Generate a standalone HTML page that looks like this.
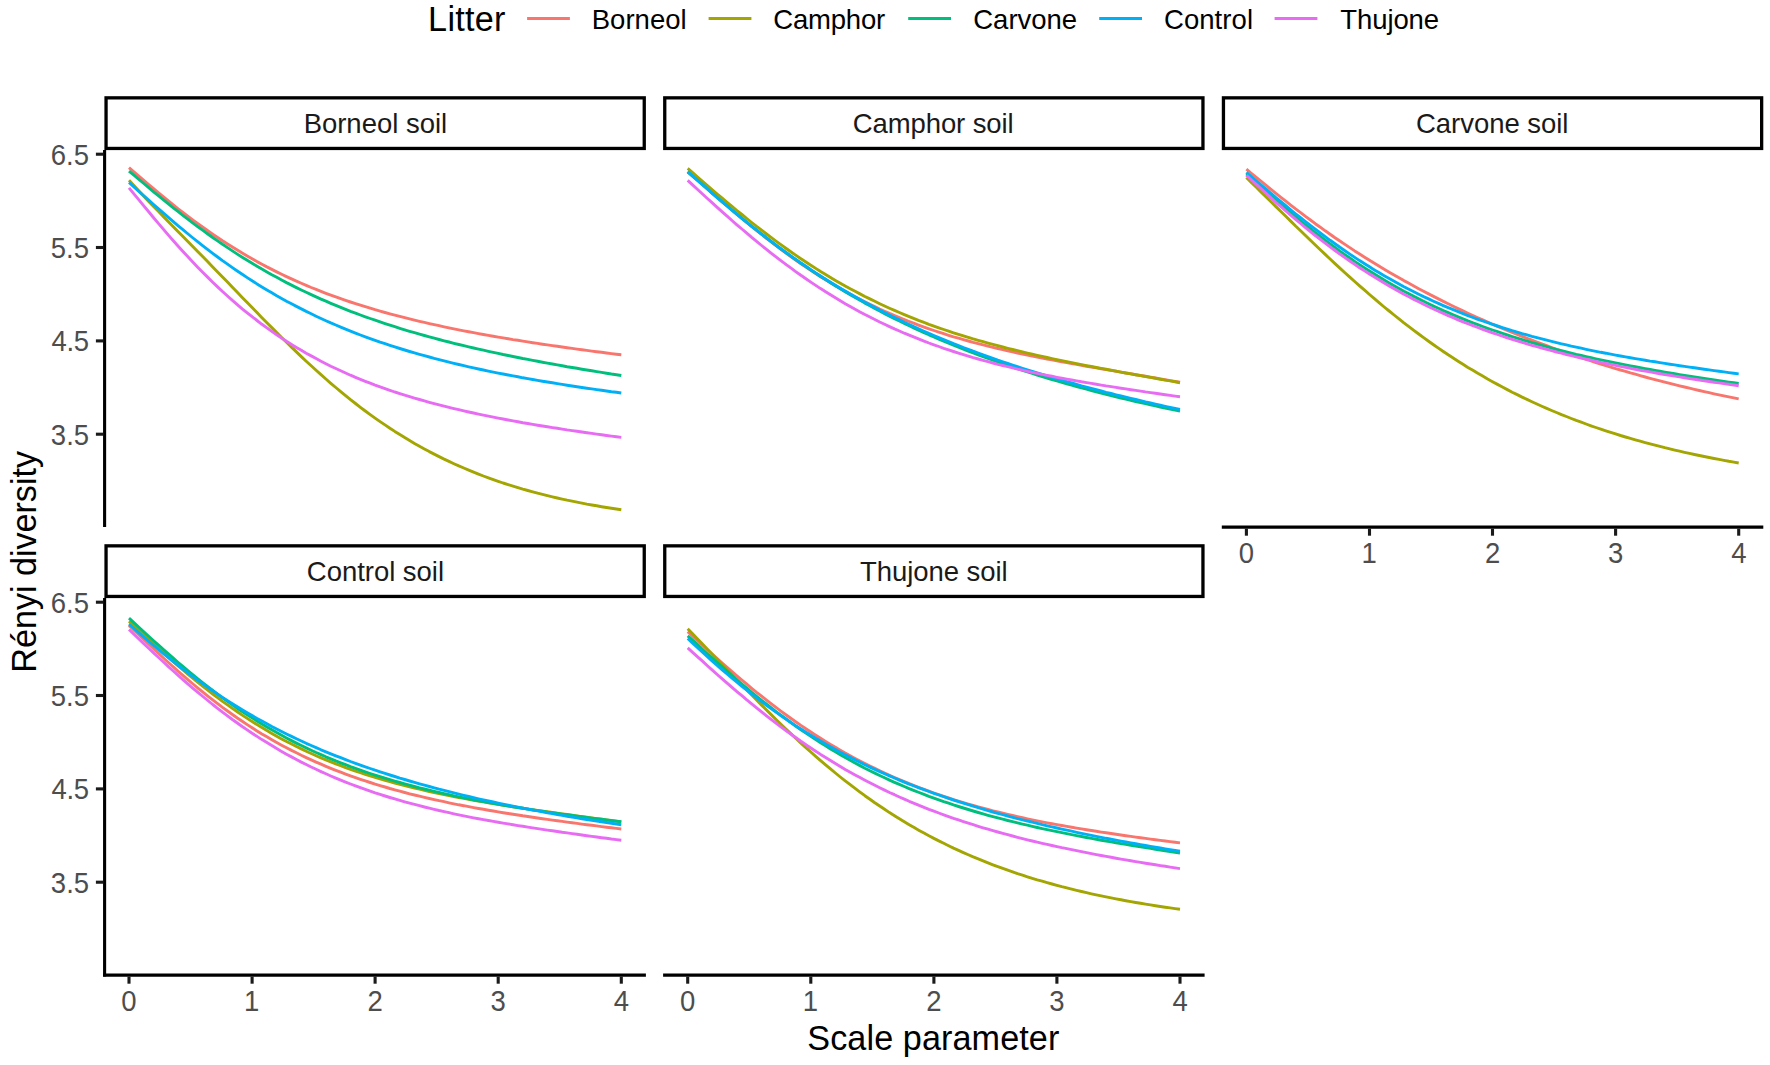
<!DOCTYPE html>
<html><head><meta charset="utf-8"><title>Rényi diversity</title>
<style>html,body{margin:0;padding:0;background:#fff}svg{display:block}text{font-family:"Liberation Sans",sans-serif}</style></head>
<body>
<svg width="1770" height="1065" viewBox="0 0 1770 1065">
<rect width="1770" height="1065" fill="#fff"/>
<text x="428.10" y="30.80" font-size="34.2" fill="#000" letter-spacing="0.277">Litter</text>
<line x1="527.1" y1="18.5" x2="569.9" y2="18.5" stroke="#F8766D" stroke-width="2.9"/>
<text x="591.73" y="28.90" font-size="27.5" fill="#000" letter-spacing="0.028">Borneol</text>
<line x1="708.6" y1="18.5" x2="751.4" y2="18.5" stroke="#A3A500" stroke-width="2.9"/>
<text x="773.26" y="28.90" font-size="27.5" fill="#000" letter-spacing="-0.191">Camphor</text>
<line x1="908.2" y1="18.5" x2="951.0" y2="18.5" stroke="#00BF7D" stroke-width="2.9"/>
<text x="973.26" y="28.90" font-size="27.5" fill="#000" letter-spacing="-0.007">Carvone</text>
<line x1="1099.2" y1="18.5" x2="1142.0" y2="18.5" stroke="#00B0F6" stroke-width="2.9"/>
<text x="1163.96" y="28.90" font-size="27.5" fill="#000" letter-spacing="0.067">Control</text>
<line x1="1274.6" y1="18.5" x2="1317.4" y2="18.5" stroke="#E76BF3" stroke-width="2.9"/>
<text x="1340.37" y="28.90" font-size="27.5" fill="#000" letter-spacing="-0.112">Thujone</text>
<path d="M129.0,167.7 L133.9,171.9 L138.9,176.1 L143.8,180.4 L148.7,184.6 L153.6,188.7 L158.6,192.8 L163.5,196.9 L168.4,200.9 L173.3,204.9 L178.2,208.8 L183.2,212.6 L188.1,216.4 L193.0,220.1 L197.9,223.7 L202.9,227.3 L207.8,230.8 L212.7,234.2 L217.6,237.5 L222.5,240.8 L227.5,244.0 L232.4,247.1 L237.3,250.1 L242.2,253.1 L247.2,256.0 L252.1,258.8 L257.0,261.6 L261.9,264.2 L266.9,266.9 L271.8,269.4 L276.7,271.9 L281.6,274.3 L286.5,276.6 L291.5,278.9 L296.4,281.1 L301.3,283.3 L306.2,285.4 L311.2,287.5 L316.1,289.4 L321.0,291.4 L325.9,293.3 L330.8,295.1 L335.8,296.9 L340.7,298.7 L345.6,300.4 L350.5,302.0 L355.5,303.6 L360.4,305.2 L365.3,306.7 L370.2,308.2 L375.1,309.7 L380.1,311.1 L385.0,312.5 L389.9,313.8 L394.8,315.1 L399.8,316.4 L404.7,317.7 L409.6,318.9 L414.5,320.1 L419.5,321.3 L424.4,322.4 L429.3,323.6 L434.2,324.7 L439.1,325.7 L444.1,326.8 L449.0,327.8 L453.9,328.8 L458.8,329.8 L463.8,330.8 L468.7,331.7 L473.6,332.7 L478.5,333.6 L483.4,334.5 L488.4,335.4 L493.3,336.2 L498.2,337.1 L503.1,337.9 L508.1,338.7 L513.0,339.6 L517.9,340.3 L522.8,341.1 L527.8,341.9 L532.7,342.7 L537.6,343.4 L542.5,344.2 L547.4,344.9 L552.4,345.6 L557.3,346.3 L562.2,347.0 L567.1,347.7 L572.1,348.4 L577.0,349.1 L581.9,349.8 L586.8,350.4 L591.8,351.1 L596.7,351.7 L601.6,352.3 L606.5,353.0 L611.4,353.6 L616.4,354.2 L621.3,354.8" fill="none" stroke="#F8766D" stroke-width="2.9" stroke-linejoin="round"/>
<path d="M129.0,180.3 L133.9,185.6 L138.9,191.0 L143.8,196.2 L148.7,201.4 L153.6,206.5 L158.6,211.6 L163.5,216.7 L168.4,221.7 L173.3,226.7 L178.2,231.7 L183.2,236.7 L188.1,241.7 L193.0,246.7 L197.9,251.7 L202.9,256.8 L207.8,261.8 L212.7,266.9 L217.6,271.9 L222.5,277.0 L227.5,282.1 L232.4,287.2 L237.3,292.3 L242.2,297.4 L247.2,302.5 L252.1,307.6 L257.0,312.6 L261.9,317.7 L266.9,322.7 L271.8,327.6 L276.7,332.6 L281.6,337.5 L286.5,342.3 L291.5,347.1 L296.4,351.9 L301.3,356.6 L306.2,361.2 L311.2,365.8 L316.1,370.3 L321.0,374.7 L325.9,379.0 L330.8,383.3 L335.8,387.5 L340.7,391.6 L345.6,395.6 L350.5,399.6 L355.5,403.5 L360.4,407.3 L365.3,411.0 L370.2,414.6 L375.1,418.1 L380.1,421.6 L385.0,424.9 L389.9,428.2 L394.8,431.4 L399.8,434.5 L404.7,437.6 L409.6,440.5 L414.5,443.4 L419.5,446.2 L424.4,448.9 L429.3,451.6 L434.2,454.1 L439.1,456.6 L444.1,459.1 L449.0,461.4 L453.9,463.7 L458.8,465.9 L463.8,468.0 L468.7,470.1 L473.6,472.1 L478.5,474.1 L483.4,476.0 L488.4,477.8 L493.3,479.6 L498.2,481.3 L503.1,483.0 L508.1,484.6 L513.0,486.1 L517.9,487.6 L522.8,489.1 L527.8,490.5 L532.7,491.8 L537.6,493.2 L542.5,494.4 L547.4,495.6 L552.4,496.8 L557.3,498.0 L562.2,499.1 L567.1,500.2 L572.1,501.2 L577.0,502.2 L581.9,503.1 L586.8,504.1 L591.8,505.0 L596.7,505.8 L601.6,506.7 L606.5,507.5 L611.4,508.2 L616.4,509.0 L621.3,509.7" fill="none" stroke="#A3A500" stroke-width="2.9" stroke-linejoin="round"/>
<path d="M129.0,171.1 L133.9,175.2 L138.9,179.4 L143.8,183.5 L148.7,187.7 L153.6,191.8 L158.6,195.8 L163.5,199.9 L168.4,203.9 L173.3,207.8 L178.2,211.7 L183.2,215.6 L188.1,219.4 L193.0,223.1 L197.9,226.8 L202.9,230.4 L207.8,234.0 L212.7,237.5 L217.6,240.9 L222.5,244.3 L227.5,247.6 L232.4,250.9 L237.3,254.1 L242.2,257.2 L247.2,260.3 L252.1,263.3 L257.0,266.2 L261.9,269.1 L266.9,271.9 L271.8,274.7 L276.7,277.3 L281.6,280.0 L286.5,282.6 L291.5,285.1 L296.4,287.6 L301.3,290.0 L306.2,292.3 L311.2,294.6 L316.1,296.9 L321.0,299.1 L325.9,301.2 L330.8,303.3 L335.8,305.4 L340.7,307.4 L345.6,309.4 L350.5,311.3 L355.5,313.1 L360.4,315.0 L365.3,316.8 L370.2,318.5 L375.1,320.2 L380.1,321.9 L385.0,323.6 L389.9,325.2 L394.8,326.7 L399.8,328.3 L404.7,329.8 L409.6,331.3 L414.5,332.7 L419.5,334.1 L424.4,335.5 L429.3,336.9 L434.2,338.2 L439.1,339.5 L444.1,340.8 L449.0,342.0 L453.9,343.3 L458.8,344.5 L463.8,345.7 L468.7,346.8 L473.6,348.0 L478.5,349.1 L483.4,350.2 L488.4,351.3 L493.3,352.4 L498.2,353.4 L503.1,354.5 L508.1,355.5 L513.0,356.5 L517.9,357.5 L522.8,358.5 L527.8,359.4 L532.7,360.4 L537.6,361.3 L542.5,362.2 L547.4,363.1 L552.4,364.0 L557.3,364.9 L562.2,365.8 L567.1,366.7 L572.1,367.5 L577.0,368.3 L581.9,369.2 L586.8,370.0 L591.8,370.8 L596.7,371.6 L601.6,372.4 L606.5,373.2 L611.4,374.0 L616.4,374.7 L621.3,375.5" fill="none" stroke="#00BF7D" stroke-width="2.9" stroke-linejoin="round"/>
<path d="M129.0,182.5 L133.9,186.9 L138.9,191.3 L143.8,195.8 L148.7,200.2 L153.6,204.5 L158.6,208.9 L163.5,213.2 L168.4,217.4 L173.3,221.6 L178.2,225.8 L183.2,229.9 L188.1,234.0 L193.0,238.0 L197.9,241.9 L202.9,245.8 L207.8,249.6 L212.7,253.3 L217.6,257.0 L222.5,260.6 L227.5,264.1 L232.4,267.6 L237.3,271.0 L242.2,274.3 L247.2,277.6 L252.1,280.7 L257.0,283.9 L261.9,286.9 L266.9,289.9 L271.8,292.8 L276.7,295.7 L281.6,298.4 L286.5,301.2 L291.5,303.8 L296.4,306.4 L301.3,308.9 L306.2,311.4 L311.2,313.8 L316.1,316.2 L321.0,318.5 L325.9,320.7 L330.8,322.9 L335.8,325.0 L340.7,327.1 L345.6,329.2 L350.5,331.1 L355.5,333.1 L360.4,335.0 L365.3,336.8 L370.2,338.6 L375.1,340.3 L380.1,342.1 L385.0,343.7 L389.9,345.3 L394.8,346.9 L399.8,348.5 L404.7,350.0 L409.6,351.5 L414.5,352.9 L419.5,354.3 L424.4,355.7 L429.3,357.0 L434.2,358.4 L439.1,359.6 L444.1,360.9 L449.0,362.1 L453.9,363.3 L458.8,364.5 L463.8,365.7 L468.7,366.8 L473.6,367.9 L478.5,369.0 L483.4,370.0 L488.4,371.1 L493.3,372.1 L498.2,373.1 L503.1,374.0 L508.1,375.0 L513.0,375.9 L517.9,376.8 L522.8,377.8 L527.8,378.6 L532.7,379.5 L537.6,380.4 L542.5,381.2 L547.4,382.0 L552.4,382.8 L557.3,383.6 L562.2,384.4 L567.1,385.2 L572.1,386.0 L577.0,386.7 L581.9,387.5 L586.8,388.2 L591.8,388.9 L596.7,389.6 L601.6,390.3 L606.5,391.0 L611.4,391.7 L616.4,392.3 L621.3,393.0" fill="none" stroke="#00B0F6" stroke-width="2.9" stroke-linejoin="round"/>
<path d="M129.0,187.9 L133.9,193.9 L138.9,199.9 L143.8,205.9 L148.7,211.8 L153.6,217.7 L158.6,223.6 L163.5,229.4 L168.4,235.1 L173.3,240.7 L178.2,246.2 L183.2,251.7 L188.1,257.0 L193.0,262.3 L197.9,267.4 L202.9,272.5 L207.8,277.4 L212.7,282.2 L217.6,286.9 L222.5,291.5 L227.5,296.0 L232.4,300.4 L237.3,304.6 L242.2,308.8 L247.2,312.8 L252.1,316.7 L257.0,320.5 L261.9,324.3 L266.9,327.9 L271.8,331.4 L276.7,334.8 L281.6,338.1 L286.5,341.3 L291.5,344.4 L296.4,347.4 L301.3,350.3 L306.2,353.2 L311.2,355.9 L316.1,358.6 L321.0,361.2 L325.9,363.7 L330.8,366.2 L335.8,368.5 L340.7,370.8 L345.6,373.0 L350.5,375.2 L355.5,377.3 L360.4,379.3 L365.3,381.3 L370.2,383.2 L375.1,385.1 L380.1,386.9 L385.0,388.6 L389.9,390.3 L394.8,392.0 L399.8,393.6 L404.7,395.1 L409.6,396.6 L414.5,398.1 L419.5,399.5 L424.4,400.9 L429.3,402.3 L434.2,403.6 L439.1,404.9 L444.1,406.2 L449.0,407.4 L453.9,408.6 L458.8,409.7 L463.8,410.9 L468.7,412.0 L473.6,413.0 L478.5,414.1 L483.4,415.1 L488.4,416.1 L493.3,417.1 L498.2,418.1 L503.1,419.0 L508.1,420.0 L513.0,420.9 L517.9,421.8 L522.8,422.7 L527.8,423.5 L532.7,424.4 L537.6,425.2 L542.5,426.0 L547.4,426.8 L552.4,427.6 L557.3,428.3 L562.2,429.1 L567.1,429.9 L572.1,430.6 L577.0,431.3 L581.9,432.0 L586.8,432.7 L591.8,433.4 L596.7,434.1 L601.6,434.8 L606.5,435.5 L611.4,436.1 L616.4,436.8 L621.3,437.4" fill="none" stroke="#E76BF3" stroke-width="2.9" stroke-linejoin="round"/>
<rect x="106.05" y="97.85" width="538.20" height="50.60" fill="#fff" stroke="#000" stroke-width="3.3"/>
<text x="303.63" y="133.10" font-size="27.5" fill="#1a1a1a" letter-spacing="-0.016">Borneol soil</text>
<line x1="104.6" y1="150.1" x2="104.6" y2="527.1" stroke="#000" stroke-width="3.1"/>
<line x1="95.9" y1="154.2" x2="103.2" y2="154.2" stroke="#1a1a1a" stroke-width="3.1"/>
<text transform="translate(50.66,164.70) scale(1,1.055)" font-size="27.5" fill="#4d4d4d" letter-spacing="0.118">6.5</text>
<line x1="95.9" y1="247.5" x2="103.2" y2="247.5" stroke="#1a1a1a" stroke-width="3.1"/>
<text transform="translate(50.70,258.03) scale(1,1.055)" font-size="27.5" fill="#4d4d4d" letter-spacing="0.102">5.5</text>
<line x1="95.9" y1="340.9" x2="103.2" y2="340.9" stroke="#1a1a1a" stroke-width="3.1"/>
<text transform="translate(51.47,351.36) scale(1,1.055)" font-size="27.5" fill="#4d4d4d" letter-spacing="-0.286">4.5</text>
<line x1="95.9" y1="434.2" x2="103.2" y2="434.2" stroke="#1a1a1a" stroke-width="3.1"/>
<text transform="translate(50.81,444.69) scale(1,1.055)" font-size="27.5" fill="#4d4d4d" letter-spacing="0.047">3.5</text>
<path d="M687.7,171.8 L692.6,176.0 L697.6,180.2 L702.5,184.5 L707.4,188.8 L712.3,193.0 L717.2,197.3 L722.2,201.6 L727.1,205.8 L732.0,210.0 L736.9,214.2 L741.9,218.3 L746.8,222.4 L751.7,226.5 L756.6,230.5 L761.6,234.4 L766.5,238.3 L771.4,242.1 L776.3,245.9 L781.2,249.6 L786.2,253.2 L791.1,256.8 L796.0,260.3 L800.9,263.7 L805.9,267.1 L810.8,270.4 L815.7,273.6 L820.6,276.7 L825.6,279.8 L830.5,282.8 L835.4,285.7 L840.3,288.6 L845.2,291.4 L850.2,294.1 L855.1,296.7 L860.0,299.3 L864.9,301.8 L869.9,304.3 L874.8,306.6 L879.7,309.0 L884.6,311.2 L889.5,313.4 L894.5,315.5 L899.4,317.6 L904.3,319.6 L909.2,321.5 L914.2,323.4 L919.1,325.3 L924.0,327.1 L928.9,328.8 L933.9,330.5 L938.8,332.1 L943.7,333.7 L948.6,335.3 L953.5,336.8 L958.5,338.2 L963.4,339.6 L968.3,341.0 L973.2,342.4 L978.2,343.7 L983.1,344.9 L988.0,346.2 L992.9,347.4 L997.8,348.5 L1002.8,349.7 L1007.7,350.8 L1012.6,351.9 L1017.5,353.0 L1022.5,354.0 L1027.4,355.0 L1032.3,356.0 L1037.2,357.0 L1042.2,358.0 L1047.1,359.0 L1052.0,359.9 L1056.9,360.8 L1061.8,361.7 L1066.8,362.6 L1071.7,363.5 L1076.6,364.4 L1081.5,365.3 L1086.5,366.2 L1091.4,367.0 L1096.3,367.9 L1101.2,368.7 L1106.1,369.6 L1111.1,370.4 L1116.0,371.3 L1120.9,372.1 L1125.8,373.0 L1130.8,373.8 L1135.7,374.7 L1140.6,375.5 L1145.5,376.3 L1150.5,377.2 L1155.4,378.0 L1160.3,378.9 L1165.2,379.7 L1170.1,380.6 L1175.1,381.5 L1180.0,382.3" fill="none" stroke="#F8766D" stroke-width="2.9" stroke-linejoin="round"/>
<path d="M687.7,168.4 L692.6,172.7 L697.6,177.0 L702.5,181.3 L707.4,185.5 L712.3,189.8 L717.2,194.0 L722.2,198.2 L727.1,202.3 L732.0,206.4 L736.9,210.5 L741.9,214.5 L746.8,218.5 L751.7,222.5 L756.6,226.4 L761.6,230.2 L766.5,234.0 L771.4,237.7 L776.3,241.3 L781.2,244.9 L786.2,248.5 L791.1,252.0 L796.0,255.4 L800.9,258.7 L805.9,262.0 L810.8,265.2 L815.7,268.4 L820.6,271.5 L825.6,274.5 L830.5,277.5 L835.4,280.4 L840.3,283.2 L845.2,286.0 L850.2,288.7 L855.1,291.3 L860.0,293.9 L864.9,296.5 L869.9,298.9 L874.8,301.3 L879.7,303.7 L884.6,306.0 L889.5,308.2 L894.5,310.4 L899.4,312.5 L904.3,314.6 L909.2,316.6 L914.2,318.6 L919.1,320.6 L924.0,322.4 L928.9,324.3 L933.9,326.1 L938.8,327.8 L943.7,329.5 L948.6,331.2 L953.5,332.8 L958.5,334.4 L963.4,335.9 L968.3,337.4 L973.2,338.9 L978.2,340.3 L983.1,341.7 L988.0,343.1 L992.9,344.4 L997.8,345.7 L1002.8,347.0 L1007.7,348.3 L1012.6,349.5 L1017.5,350.7 L1022.5,351.9 L1027.4,353.1 L1032.3,354.2 L1037.2,355.3 L1042.2,356.4 L1047.1,357.5 L1052.0,358.6 L1056.9,359.6 L1061.8,360.6 L1066.8,361.6 L1071.7,362.6 L1076.6,363.6 L1081.5,364.6 L1086.5,365.6 L1091.4,366.5 L1096.3,367.5 L1101.2,368.4 L1106.1,369.3 L1111.1,370.2 L1116.0,371.2 L1120.9,372.1 L1125.8,373.0 L1130.8,373.9 L1135.7,374.8 L1140.6,375.6 L1145.5,376.5 L1150.5,377.4 L1155.4,378.3 L1160.3,379.2 L1165.2,380.1 L1170.1,380.9 L1175.1,381.8 L1180.0,382.7" fill="none" stroke="#A3A500" stroke-width="2.9" stroke-linejoin="round"/>
<path d="M687.7,171.8 L692.6,176.1 L697.6,180.4 L702.5,184.7 L707.4,189.0 L712.3,193.3 L717.2,197.5 L722.2,201.8 L727.1,205.9 L732.0,210.1 L736.9,214.2 L741.9,218.3 L746.8,222.3 L751.7,226.3 L756.6,230.2 L761.6,234.1 L766.5,238.0 L771.4,241.7 L776.3,245.5 L781.2,249.1 L786.2,252.7 L791.1,256.3 L796.0,259.8 L800.9,263.2 L805.9,266.6 L810.8,270.0 L815.7,273.2 L820.6,276.5 L825.6,279.6 L830.5,282.7 L835.4,285.8 L840.3,288.8 L845.2,291.8 L850.2,294.7 L855.1,297.5 L860.0,300.3 L864.9,303.1 L869.9,305.8 L874.8,308.4 L879.7,311.0 L884.6,313.6 L889.5,316.1 L894.5,318.6 L899.4,321.0 L904.3,323.4 L909.2,325.8 L914.2,328.1 L919.1,330.4 L924.0,332.6 L928.9,334.8 L933.9,336.9 L938.8,339.1 L943.7,341.2 L948.6,343.2 L953.5,345.2 L958.5,347.2 L963.4,349.2 L968.3,351.1 L973.2,353.0 L978.2,354.8 L983.1,356.7 L988.0,358.5 L992.9,360.2 L997.8,362.0 L1002.8,363.7 L1007.7,365.4 L1012.6,367.0 L1017.5,368.7 L1022.5,370.3 L1027.4,371.9 L1032.3,373.4 L1037.2,375.0 L1042.2,376.5 L1047.1,378.0 L1052.0,379.5 L1056.9,380.9 L1061.8,382.4 L1066.8,383.8 L1071.7,385.1 L1076.6,386.5 L1081.5,387.9 L1086.5,389.2 L1091.4,390.5 L1096.3,391.8 L1101.2,393.1 L1106.1,394.3 L1111.1,395.6 L1116.0,396.8 L1120.9,398.0 L1125.8,399.2 L1130.8,400.3 L1135.7,401.5 L1140.6,402.6 L1145.5,403.7 L1150.5,404.9 L1155.4,405.9 L1160.3,407.0 L1165.2,408.1 L1170.1,409.1 L1175.1,410.2 L1180.0,411.2" fill="none" stroke="#00BF7D" stroke-width="2.9" stroke-linejoin="round"/>
<path d="M687.7,171.7 L692.6,176.1 L697.6,180.4 L702.5,184.7 L707.4,189.0 L712.3,193.3 L717.2,197.6 L722.2,201.8 L727.1,206.0 L732.0,210.2 L736.9,214.3 L741.9,218.3 L746.8,222.4 L751.7,226.3 L756.6,230.2 L761.6,234.1 L766.5,237.9 L771.4,241.7 L776.3,245.4 L781.2,249.0 L786.2,252.6 L791.1,256.1 L796.0,259.6 L800.9,263.0 L805.9,266.3 L810.8,269.6 L815.7,272.9 L820.6,276.0 L825.6,279.2 L830.5,282.2 L835.4,285.2 L840.3,288.2 L845.2,291.1 L850.2,294.0 L855.1,296.8 L860.0,299.5 L864.9,302.2 L869.9,304.9 L874.8,307.5 L879.7,310.1 L884.6,312.6 L889.5,315.1 L894.5,317.5 L899.4,319.9 L904.3,322.2 L909.2,324.5 L914.2,326.8 L919.1,329.0 L924.0,331.2 L928.9,333.4 L933.9,335.5 L938.8,337.6 L943.7,339.6 L948.6,341.6 L953.5,343.6 L958.5,345.5 L963.4,347.5 L968.3,349.3 L973.2,351.2 L978.2,353.0 L983.1,354.8 L988.0,356.6 L992.9,358.3 L997.8,360.1 L1002.8,361.8 L1007.7,363.4 L1012.6,365.1 L1017.5,366.7 L1022.5,368.3 L1027.4,369.8 L1032.3,371.4 L1037.2,372.9 L1042.2,374.4 L1047.1,375.9 L1052.0,377.4 L1056.9,378.8 L1061.8,380.2 L1066.8,381.7 L1071.7,383.0 L1076.6,384.4 L1081.5,385.8 L1086.5,387.1 L1091.4,388.4 L1096.3,389.7 L1101.2,391.0 L1106.1,392.3 L1111.1,393.5 L1116.0,394.8 L1120.9,396.0 L1125.8,397.2 L1130.8,398.4 L1135.7,399.5 L1140.6,400.7 L1145.5,401.9 L1150.5,403.0 L1155.4,404.1 L1160.3,405.2 L1165.2,406.3 L1170.1,407.4 L1175.1,408.5 L1180.0,409.5" fill="none" stroke="#00B0F6" stroke-width="2.9" stroke-linejoin="round"/>
<path d="M687.7,180.4 L692.6,184.9 L697.6,189.5 L702.5,194.0 L707.4,198.5 L712.3,202.9 L717.2,207.4 L722.2,211.8 L727.1,216.2 L732.0,220.5 L736.9,224.8 L741.9,229.0 L746.8,233.2 L751.7,237.4 L756.6,241.4 L761.6,245.5 L766.5,249.4 L771.4,253.3 L776.3,257.1 L781.2,260.9 L786.2,264.6 L791.1,268.2 L796.0,271.8 L800.9,275.3 L805.9,278.7 L810.8,282.1 L815.7,285.4 L820.6,288.6 L825.6,291.7 L830.5,294.8 L835.4,297.8 L840.3,300.8 L845.2,303.7 L850.2,306.5 L855.1,309.2 L860.0,311.9 L864.9,314.5 L869.9,317.0 L874.8,319.5 L879.7,322.0 L884.6,324.3 L889.5,326.6 L894.5,328.9 L899.4,331.0 L904.3,333.2 L909.2,335.2 L914.2,337.2 L919.1,339.2 L924.0,341.1 L928.9,343.0 L933.9,344.8 L938.8,346.5 L943.7,348.3 L948.6,349.9 L953.5,351.5 L958.5,353.1 L963.4,354.6 L968.3,356.1 L973.2,357.6 L978.2,359.0 L983.1,360.4 L988.0,361.7 L992.9,363.0 L997.8,364.3 L1002.8,365.5 L1007.7,366.7 L1012.6,367.9 L1017.5,369.1 L1022.5,370.2 L1027.4,371.3 L1032.3,372.3 L1037.2,373.4 L1042.2,374.4 L1047.1,375.4 L1052.0,376.3 L1056.9,377.3 L1061.8,378.2 L1066.8,379.1 L1071.7,380.0 L1076.6,380.9 L1081.5,381.8 L1086.5,382.6 L1091.4,383.4 L1096.3,384.3 L1101.2,385.1 L1106.1,385.9 L1111.1,386.6 L1116.0,387.4 L1120.9,388.2 L1125.8,388.9 L1130.8,389.7 L1135.7,390.4 L1140.6,391.1 L1145.5,391.9 L1150.5,392.6 L1155.4,393.3 L1160.3,394.0 L1165.2,394.7 L1170.1,395.4 L1175.1,396.1 L1180.0,396.8" fill="none" stroke="#E76BF3" stroke-width="2.9" stroke-linejoin="round"/>
<rect x="664.75" y="97.85" width="538.20" height="50.60" fill="#fff" stroke="#000" stroke-width="3.3"/>
<text x="852.76" y="133.10" font-size="27.5" fill="#1a1a1a" letter-spacing="-0.101">Camphor soil</text>
<path d="M1246.4,169.2 L1251.3,173.3 L1256.3,177.3 L1261.2,181.4 L1266.1,185.4 L1271.0,189.4 L1275.9,193.4 L1280.9,197.3 L1285.8,201.2 L1290.7,205.1 L1295.6,208.9 L1300.6,212.6 L1305.5,216.4 L1310.4,220.0 L1315.3,223.7 L1320.3,227.2 L1325.2,230.8 L1330.1,234.2 L1335.0,237.7 L1339.9,241.0 L1344.9,244.4 L1349.8,247.6 L1354.7,250.9 L1359.6,254.0 L1364.6,257.2 L1369.5,260.3 L1374.4,263.3 L1379.3,266.3 L1384.2,269.2 L1389.2,272.2 L1394.1,275.0 L1399.0,277.8 L1403.9,280.6 L1408.9,283.3 L1413.8,286.0 L1418.7,288.7 L1423.6,291.3 L1428.6,293.9 L1433.5,296.4 L1438.4,298.9 L1443.3,301.4 L1448.2,303.8 L1453.2,306.2 L1458.1,308.6 L1463.0,310.9 L1467.9,313.2 L1472.9,315.5 L1477.8,317.7 L1482.7,319.9 L1487.6,322.0 L1492.5,324.2 L1497.5,326.3 L1502.4,328.4 L1507.3,330.4 L1512.2,332.4 L1517.2,334.4 L1522.1,336.4 L1527.0,338.3 L1531.9,340.2 L1536.9,342.1 L1541.8,343.9 L1546.7,345.7 L1551.6,347.5 L1556.5,349.3 L1561.5,351.0 L1566.4,352.7 L1571.3,354.4 L1576.2,356.1 L1581.2,357.7 L1586.1,359.3 L1591.0,360.9 L1595.9,362.5 L1600.8,364.1 L1605.8,365.6 L1610.7,367.1 L1615.6,368.6 L1620.5,370.0 L1625.5,371.4 L1630.4,372.9 L1635.3,374.2 L1640.2,375.6 L1645.2,377.0 L1650.1,378.3 L1655.0,379.6 L1659.9,380.9 L1664.8,382.1 L1669.8,383.4 L1674.7,384.6 L1679.6,385.8 L1684.5,387.0 L1689.5,388.2 L1694.4,389.3 L1699.3,390.5 L1704.2,391.6 L1709.1,392.7 L1714.1,393.8 L1719.0,394.8 L1723.9,395.9 L1728.8,396.9 L1733.8,397.9 L1738.7,398.9" fill="none" stroke="#F8766D" stroke-width="2.9" stroke-linejoin="round"/>
<path d="M1246.4,177.5 L1251.3,182.4 L1256.3,187.2 L1261.2,192.1 L1266.1,196.9 L1271.0,201.8 L1275.9,206.6 L1280.9,211.5 L1285.8,216.3 L1290.7,221.1 L1295.6,226.0 L1300.6,230.7 L1305.5,235.5 L1310.4,240.3 L1315.3,245.0 L1320.3,249.7 L1325.2,254.4 L1330.1,259.0 L1335.0,263.6 L1339.9,268.1 L1344.9,272.7 L1349.8,277.1 L1354.7,281.5 L1359.6,285.9 L1364.6,290.2 L1369.5,294.5 L1374.4,298.7 L1379.3,302.9 L1384.2,307.0 L1389.2,311.0 L1394.1,315.0 L1399.0,318.9 L1403.9,322.8 L1408.9,326.6 L1413.8,330.3 L1418.7,334.0 L1423.6,337.6 L1428.6,341.2 L1433.5,344.7 L1438.4,348.1 L1443.3,351.5 L1448.2,354.8 L1453.2,358.0 L1458.1,361.2 L1463.0,364.3 L1467.9,367.4 L1472.9,370.3 L1477.8,373.3 L1482.7,376.1 L1487.6,379.0 L1492.5,381.7 L1497.5,384.4 L1502.4,387.0 L1507.3,389.6 L1512.2,392.2 L1517.2,394.6 L1522.1,397.1 L1527.0,399.4 L1531.9,401.7 L1536.9,404.0 L1541.8,406.2 L1546.7,408.4 L1551.6,410.5 L1556.5,412.5 L1561.5,414.6 L1566.4,416.5 L1571.3,418.5 L1576.2,420.4 L1581.2,422.2 L1586.1,424.0 L1591.0,425.8 L1595.9,427.5 L1600.8,429.1 L1605.8,430.8 L1610.7,432.4 L1615.6,433.9 L1620.5,435.5 L1625.5,437.0 L1630.4,438.4 L1635.3,439.8 L1640.2,441.2 L1645.2,442.6 L1650.1,443.9 L1655.0,445.2 L1659.9,446.4 L1664.8,447.7 L1669.8,448.9 L1674.7,450.1 L1679.6,451.2 L1684.5,452.3 L1689.5,453.4 L1694.4,454.5 L1699.3,455.5 L1704.2,456.5 L1709.1,457.5 L1714.1,458.5 L1719.0,459.4 L1723.9,460.4 L1728.8,461.3 L1733.8,462.1 L1738.7,463.0" fill="none" stroke="#A3A500" stroke-width="2.9" stroke-linejoin="round"/>
<path d="M1246.4,173.8 L1251.3,178.2 L1256.3,182.6 L1261.2,187.0 L1266.1,191.3 L1271.0,195.7 L1275.9,200.0 L1280.9,204.2 L1285.8,208.4 L1290.7,212.6 L1295.6,216.7 L1300.6,220.8 L1305.5,224.8 L1310.4,228.7 L1315.3,232.6 L1320.3,236.5 L1325.2,240.2 L1330.1,243.9 L1335.0,247.5 L1339.9,251.1 L1344.9,254.6 L1349.8,258.0 L1354.7,261.4 L1359.6,264.6 L1364.6,267.9 L1369.5,271.0 L1374.4,274.1 L1379.3,277.1 L1384.2,280.1 L1389.2,282.9 L1394.1,285.8 L1399.0,288.5 L1403.9,291.2 L1408.9,293.8 L1413.8,296.4 L1418.7,298.9 L1423.6,301.3 L1428.6,303.7 L1433.5,306.1 L1438.4,308.3 L1443.3,310.6 L1448.2,312.7 L1453.2,314.8 L1458.1,316.9 L1463.0,318.9 L1467.9,320.9 L1472.9,322.8 L1477.8,324.7 L1482.7,326.5 L1487.6,328.3 L1492.5,330.0 L1497.5,331.7 L1502.4,333.4 L1507.3,335.0 L1512.2,336.6 L1517.2,338.2 L1522.1,339.7 L1527.0,341.2 L1531.9,342.6 L1536.9,344.0 L1541.8,345.4 L1546.7,346.7 L1551.6,348.1 L1556.5,349.4 L1561.5,350.6 L1566.4,351.9 L1571.3,353.1 L1576.2,354.3 L1581.2,355.4 L1586.1,356.6 L1591.0,357.7 L1595.9,358.8 L1600.8,359.8 L1605.8,360.9 L1610.7,361.9 L1615.6,362.9 L1620.5,363.9 L1625.5,364.9 L1630.4,365.9 L1635.3,366.8 L1640.2,367.7 L1645.2,368.6 L1650.1,369.5 L1655.0,370.4 L1659.9,371.3 L1664.8,372.1 L1669.8,373.0 L1674.7,373.8 L1679.6,374.6 L1684.5,375.4 L1689.5,376.2 L1694.4,377.0 L1699.3,377.7 L1704.2,378.5 L1709.1,379.2 L1714.1,380.0 L1719.0,380.7 L1723.9,381.4 L1728.8,382.1 L1733.8,382.8 L1738.7,383.5" fill="none" stroke="#00BF7D" stroke-width="2.9" stroke-linejoin="round"/>
<path d="M1246.4,172.3 L1251.3,176.6 L1256.3,180.8 L1261.2,185.0 L1266.1,189.2 L1271.0,193.4 L1275.9,197.5 L1280.9,201.6 L1285.8,205.7 L1290.7,209.8 L1295.6,213.8 L1300.6,217.7 L1305.5,221.6 L1310.4,225.5 L1315.3,229.2 L1320.3,233.0 L1325.2,236.6 L1330.1,240.3 L1335.0,243.8 L1339.9,247.3 L1344.9,250.7 L1349.8,254.1 L1354.7,257.4 L1359.6,260.6 L1364.6,263.7 L1369.5,266.8 L1374.4,269.9 L1379.3,272.8 L1384.2,275.7 L1389.2,278.5 L1394.1,281.3 L1399.0,284.0 L1403.9,286.7 L1408.9,289.2 L1413.8,291.7 L1418.7,294.2 L1423.6,296.6 L1428.6,298.9 L1433.5,301.2 L1438.4,303.4 L1443.3,305.6 L1448.2,307.7 L1453.2,309.7 L1458.1,311.7 L1463.0,313.7 L1467.9,315.6 L1472.9,317.5 L1477.8,319.3 L1482.7,321.0 L1487.6,322.7 L1492.5,324.4 L1497.5,326.0 L1502.4,327.6 L1507.3,329.2 L1512.2,330.7 L1517.2,332.1 L1522.1,333.6 L1527.0,334.9 L1531.9,336.3 L1536.9,337.6 L1541.8,338.9 L1546.7,340.2 L1551.6,341.4 L1556.5,342.6 L1561.5,343.8 L1566.4,344.9 L1571.3,346.1 L1576.2,347.1 L1581.2,348.2 L1586.1,349.3 L1591.0,350.3 L1595.9,351.3 L1600.8,352.3 L1605.8,353.2 L1610.7,354.2 L1615.6,355.1 L1620.5,356.0 L1625.5,356.9 L1630.4,357.7 L1635.3,358.6 L1640.2,359.4 L1645.2,360.2 L1650.1,361.1 L1655.0,361.8 L1659.9,362.6 L1664.8,363.4 L1669.8,364.2 L1674.7,364.9 L1679.6,365.7 L1684.5,366.4 L1689.5,367.1 L1694.4,367.8 L1699.3,368.5 L1704.2,369.2 L1709.1,369.9 L1714.1,370.6 L1719.0,371.3 L1723.9,371.9 L1728.8,372.6 L1733.8,373.3 L1738.7,373.9" fill="none" stroke="#00B0F6" stroke-width="2.9" stroke-linejoin="round"/>
<path d="M1246.4,175.2 L1251.3,179.8 L1256.3,184.4 L1261.2,188.9 L1266.1,193.4 L1271.0,197.9 L1275.9,202.3 L1280.9,206.6 L1285.8,211.0 L1290.7,215.2 L1295.6,219.4 L1300.6,223.5 L1305.5,227.6 L1310.4,231.6 L1315.3,235.5 L1320.3,239.4 L1325.2,243.2 L1330.1,246.9 L1335.0,250.5 L1339.9,254.1 L1344.9,257.6 L1349.8,261.0 L1354.7,264.4 L1359.6,267.7 L1364.6,270.9 L1369.5,274.0 L1374.4,277.1 L1379.3,280.1 L1384.2,283.1 L1389.2,286.0 L1394.1,288.8 L1399.0,291.5 L1403.9,294.2 L1408.9,296.8 L1413.8,299.4 L1418.7,301.8 L1423.6,304.3 L1428.6,306.7 L1433.5,309.0 L1438.4,311.2 L1443.3,313.4 L1448.2,315.6 L1453.2,317.7 L1458.1,319.8 L1463.0,321.8 L1467.9,323.7 L1472.9,325.6 L1477.8,327.5 L1482.7,329.3 L1487.6,331.1 L1492.5,332.8 L1497.5,334.5 L1502.4,336.1 L1507.3,337.8 L1512.2,339.3 L1517.2,340.9 L1522.1,342.4 L1527.0,343.8 L1531.9,345.3 L1536.9,346.7 L1541.8,348.0 L1546.7,349.4 L1551.6,350.7 L1556.5,352.0 L1561.5,353.2 L1566.4,354.5 L1571.3,355.7 L1576.2,356.8 L1581.2,358.0 L1586.1,359.1 L1591.0,360.2 L1595.9,361.3 L1600.8,362.4 L1605.8,363.4 L1610.7,364.4 L1615.6,365.4 L1620.5,366.4 L1625.5,367.4 L1630.4,368.3 L1635.3,369.3 L1640.2,370.2 L1645.2,371.1 L1650.1,371.9 L1655.0,372.8 L1659.9,373.7 L1664.8,374.5 L1669.8,375.3 L1674.7,376.1 L1679.6,376.9 L1684.5,377.7 L1689.5,378.5 L1694.4,379.3 L1699.3,380.0 L1704.2,380.8 L1709.1,381.5 L1714.1,382.2 L1719.0,382.9 L1723.9,383.6 L1728.8,384.3 L1733.8,385.0 L1738.7,385.7" fill="none" stroke="#E76BF3" stroke-width="2.9" stroke-linejoin="round"/>
<rect x="1223.45" y="97.85" width="538.20" height="50.60" fill="#fff" stroke="#000" stroke-width="3.3"/>
<text x="1415.96" y="133.10" font-size="27.5" fill="#1a1a1a" letter-spacing="-0.032">Carvone soil</text>
<line x1="1221.8" y1="527.1" x2="1763.3" y2="527.1" stroke="#000" stroke-width="3.1"/>
<line x1="1246.4" y1="528.6" x2="1246.4" y2="535.7" stroke="#1a1a1a" stroke-width="3.1"/>
<text transform="translate(1238.75,563.00) scale(1,1.055)" font-size="27.5" fill="#4d4d4d">0</text>
<line x1="1369.5" y1="528.6" x2="1369.5" y2="535.7" stroke="#1a1a1a" stroke-width="3.1"/>
<text transform="translate(1361.46,563.00) scale(1,1.055)" font-size="27.5" fill="#4d4d4d">1</text>
<line x1="1492.5" y1="528.6" x2="1492.5" y2="535.7" stroke="#1a1a1a" stroke-width="3.1"/>
<text transform="translate(1484.90,563.00) scale(1,1.055)" font-size="27.5" fill="#4d4d4d">2</text>
<line x1="1615.6" y1="528.6" x2="1615.6" y2="535.7" stroke="#1a1a1a" stroke-width="3.1"/>
<text transform="translate(1607.97,563.00) scale(1,1.055)" font-size="27.5" fill="#4d4d4d">3</text>
<line x1="1738.7" y1="528.6" x2="1738.7" y2="535.7" stroke="#1a1a1a" stroke-width="3.1"/>
<text transform="translate(1731.14,563.00) scale(1,1.055)" font-size="27.5" fill="#4d4d4d">4</text>
<path d="M129.0,625.4 L133.9,630.1 L138.9,634.8 L143.8,639.5 L148.7,644.2 L153.6,648.8 L158.6,653.4 L163.5,658.0 L168.4,662.5 L173.3,666.9 L178.2,671.3 L183.2,675.6 L188.1,679.9 L193.0,684.0 L197.9,688.1 L202.9,692.2 L207.8,696.1 L212.7,699.9 L217.6,703.7 L222.5,707.4 L227.5,711.0 L232.4,714.5 L237.3,718.0 L242.2,721.3 L247.2,724.6 L252.1,727.8 L257.0,730.9 L261.9,733.9 L266.9,736.8 L271.8,739.7 L276.7,742.5 L281.6,745.2 L286.5,747.8 L291.5,750.4 L296.4,752.8 L301.3,755.3 L306.2,757.6 L311.2,759.9 L316.1,762.1 L321.0,764.2 L325.9,766.3 L330.8,768.3 L335.8,770.3 L340.7,772.2 L345.6,774.1 L350.5,775.9 L355.5,777.6 L360.4,779.3 L365.3,780.9 L370.2,782.5 L375.1,784.1 L380.1,785.6 L385.0,787.0 L389.9,788.5 L394.8,789.8 L399.8,791.2 L404.7,792.5 L409.6,793.8 L414.5,795.0 L419.5,796.2 L424.4,797.4 L429.3,798.5 L434.2,799.6 L439.1,800.7 L444.1,801.7 L449.0,802.8 L453.9,803.8 L458.8,804.8 L463.8,805.7 L468.7,806.7 L473.6,807.6 L478.5,808.5 L483.4,809.3 L488.4,810.2 L493.3,811.0 L498.2,811.9 L503.1,812.7 L508.1,813.5 L513.0,814.3 L517.9,815.0 L522.8,815.8 L527.8,816.5 L532.7,817.3 L537.6,818.0 L542.5,818.7 L547.4,819.4 L552.4,820.1 L557.3,820.8 L562.2,821.4 L567.1,822.1 L572.1,822.8 L577.0,823.4 L581.9,824.1 L586.8,824.7 L591.8,825.3 L596.7,825.9 L601.6,826.6 L606.5,827.2 L611.4,827.8 L616.4,828.4 L621.3,829.0" fill="none" stroke="#F8766D" stroke-width="2.9" stroke-linejoin="round"/>
<path d="M129.0,621.3 L133.9,625.9 L138.9,630.4 L143.8,635.0 L148.7,639.5 L153.6,644.0 L158.6,648.5 L163.5,652.9 L168.4,657.3 L173.3,661.6 L178.2,665.9 L183.2,670.1 L188.1,674.3 L193.0,678.4 L197.9,682.4 L202.9,686.4 L207.8,690.2 L212.7,694.0 L217.6,697.7 L222.5,701.4 L227.5,704.9 L232.4,708.4 L237.3,711.8 L242.2,715.1 L247.2,718.4 L252.1,721.5 L257.0,724.6 L261.9,727.6 L266.9,730.6 L271.8,733.4 L276.7,736.2 L281.6,738.9 L286.5,741.5 L291.5,744.0 L296.4,746.5 L301.3,748.9 L306.2,751.2 L311.2,753.5 L316.1,755.7 L321.0,757.8 L325.9,759.9 L330.8,761.9 L335.8,763.8 L340.7,765.7 L345.6,767.6 L350.5,769.3 L355.5,771.1 L360.4,772.7 L365.3,774.3 L370.2,775.9 L375.1,777.4 L380.1,778.9 L385.0,780.3 L389.9,781.7 L394.8,783.1 L399.8,784.4 L404.7,785.7 L409.6,786.9 L414.5,788.1 L419.5,789.2 L424.4,790.4 L429.3,791.5 L434.2,792.6 L439.1,793.6 L444.1,794.6 L449.0,795.6 L453.9,796.6 L458.8,797.5 L463.8,798.4 L468.7,799.3 L473.6,800.2 L478.5,801.1 L483.4,801.9 L488.4,802.8 L493.3,803.6 L498.2,804.4 L503.1,805.2 L508.1,805.9 L513.0,806.7 L517.9,807.5 L522.8,808.2 L527.8,808.9 L532.7,809.7 L537.6,810.4 L542.5,811.1 L547.4,811.8 L552.4,812.5 L557.3,813.2 L562.2,813.9 L567.1,814.5 L572.1,815.2 L577.0,815.9 L581.9,816.6 L586.8,817.2 L591.8,817.9 L596.7,818.6 L601.6,819.2 L606.5,819.9 L611.4,820.6 L616.4,821.2 L621.3,821.9" fill="none" stroke="#A3A500" stroke-width="2.9" stroke-linejoin="round"/>
<path d="M129.0,618.1 L133.9,622.6 L138.9,627.2 L143.8,631.7 L148.7,636.2 L153.6,640.7 L158.6,645.1 L163.5,649.5 L168.4,653.9 L173.3,658.2 L178.2,662.5 L183.2,666.7 L188.1,670.8 L193.0,674.9 L197.9,678.9 L202.9,682.8 L207.8,686.6 L212.7,690.4 L217.6,694.1 L222.5,697.8 L227.5,701.3 L232.4,704.8 L237.3,708.2 L242.2,711.5 L247.2,714.7 L252.1,717.9 L257.0,721.0 L261.9,724.0 L266.9,726.9 L271.8,729.8 L276.7,732.6 L281.6,735.3 L286.5,738.0 L291.5,740.6 L296.4,743.1 L301.3,745.5 L306.2,747.9 L311.2,750.2 L316.1,752.5 L321.0,754.6 L325.9,756.8 L330.8,758.8 L335.8,760.9 L340.7,762.8 L345.6,764.7 L350.5,766.6 L355.5,768.4 L360.4,770.1 L365.3,771.8 L370.2,773.5 L375.1,775.1 L380.1,776.7 L385.0,778.2 L389.9,779.7 L394.8,781.1 L399.8,782.5 L404.7,783.9 L409.6,785.2 L414.5,786.5 L419.5,787.8 L424.4,789.0 L429.3,790.2 L434.2,791.4 L439.1,792.5 L444.1,793.6 L449.0,794.7 L453.9,795.8 L458.8,796.8 L463.8,797.8 L468.7,798.8 L473.6,799.8 L478.5,800.7 L483.4,801.6 L488.4,802.5 L493.3,803.4 L498.2,804.3 L503.1,805.1 L508.1,806.0 L513.0,806.8 L517.9,807.6 L522.8,808.3 L527.8,809.1 L532.7,809.9 L537.6,810.6 L542.5,811.3 L547.4,812.1 L552.4,812.8 L557.3,813.5 L562.2,814.2 L567.1,814.8 L572.1,815.5 L577.0,816.2 L581.9,816.8 L586.8,817.4 L591.8,818.1 L596.7,818.7 L601.6,819.3 L606.5,819.9 L611.4,820.5 L616.4,821.1 L621.3,821.7" fill="none" stroke="#00BF7D" stroke-width="2.9" stroke-linejoin="round"/>
<path d="M129.0,624.1 L133.9,628.5 L138.9,632.8 L143.8,637.1 L148.7,641.3 L153.6,645.5 L158.6,649.6 L163.5,653.7 L168.4,657.7 L173.3,661.7 L178.2,665.5 L183.2,669.4 L188.1,673.1 L193.0,676.8 L197.9,680.4 L202.9,683.9 L207.8,687.4 L212.7,690.8 L217.6,694.1 L222.5,697.4 L227.5,700.6 L232.4,703.7 L237.3,706.8 L242.2,709.8 L247.2,712.7 L252.1,715.6 L257.0,718.4 L261.9,721.1 L266.9,723.8 L271.8,726.5 L276.7,729.0 L281.6,731.5 L286.5,734.0 L291.5,736.4 L296.4,738.7 L301.3,741.0 L306.2,743.3 L311.2,745.5 L316.1,747.6 L321.0,749.8 L325.9,751.8 L330.8,753.8 L335.8,755.8 L340.7,757.7 L345.6,759.6 L350.5,761.5 L355.5,763.3 L360.4,765.1 L365.3,766.8 L370.2,768.5 L375.1,770.2 L380.1,771.8 L385.0,773.4 L389.9,775.0 L394.8,776.5 L399.8,778.1 L404.7,779.5 L409.6,781.0 L414.5,782.4 L419.5,783.8 L424.4,785.2 L429.3,786.5 L434.2,787.9 L439.1,789.2 L444.1,790.4 L449.0,791.7 L453.9,792.9 L458.8,794.1 L463.8,795.3 L468.7,796.5 L473.6,797.6 L478.5,798.8 L483.4,799.9 L488.4,801.0 L493.3,802.0 L498.2,803.1 L503.1,804.1 L508.1,805.2 L513.0,806.2 L517.9,807.2 L522.8,808.1 L527.8,809.1 L532.7,810.0 L537.6,810.9 L542.5,811.9 L547.4,812.8 L552.4,813.6 L557.3,814.5 L562.2,815.4 L567.1,816.2 L572.1,817.0 L577.0,817.9 L581.9,818.7 L586.8,819.5 L591.8,820.2 L596.7,821.0 L601.6,821.8 L606.5,822.5 L611.4,823.3 L616.4,824.0 L621.3,824.7" fill="none" stroke="#00B0F6" stroke-width="2.9" stroke-linejoin="round"/>
<path d="M129.0,629.5 L133.9,634.2 L138.9,638.9 L143.8,643.6 L148.7,648.3 L153.6,652.9 L158.6,657.5 L163.5,662.0 L168.4,666.6 L173.3,671.0 L178.2,675.4 L183.2,679.8 L188.1,684.1 L193.0,688.3 L197.9,692.4 L202.9,696.5 L207.8,700.5 L212.7,704.5 L217.6,708.3 L222.5,712.1 L227.5,715.8 L232.4,719.5 L237.3,723.0 L242.2,726.5 L247.2,729.9 L252.1,733.2 L257.0,736.4 L261.9,739.6 L266.9,742.6 L271.8,745.6 L276.7,748.6 L281.6,751.4 L286.5,754.2 L291.5,756.9 L296.4,759.5 L301.3,762.1 L306.2,764.5 L311.2,767.0 L316.1,769.3 L321.0,771.6 L325.9,773.8 L330.8,776.0 L335.8,778.1 L340.7,780.1 L345.6,782.1 L350.5,784.0 L355.5,785.9 L360.4,787.7 L365.3,789.4 L370.2,791.1 L375.1,792.8 L380.1,794.4 L385.0,796.0 L389.9,797.5 L394.8,798.9 L399.8,800.4 L404.7,801.8 L409.6,803.1 L414.5,804.4 L419.5,805.7 L424.4,807.0 L429.3,808.2 L434.2,809.3 L439.1,810.5 L444.1,811.6 L449.0,812.7 L453.9,813.8 L458.8,814.8 L463.8,815.8 L468.7,816.8 L473.6,817.8 L478.5,818.7 L483.4,819.6 L488.4,820.5 L493.3,821.4 L498.2,822.3 L503.1,823.1 L508.1,823.9 L513.0,824.8 L517.9,825.6 L522.8,826.3 L527.8,827.1 L532.7,827.9 L537.6,828.6 L542.5,829.4 L547.4,830.1 L552.4,830.8 L557.3,831.5 L562.2,832.3 L567.1,832.9 L572.1,833.6 L577.0,834.3 L581.9,835.0 L586.8,835.7 L591.8,836.4 L596.7,837.0 L601.6,837.7 L606.5,838.3 L611.4,839.0 L616.4,839.6 L621.3,840.3" fill="none" stroke="#E76BF3" stroke-width="2.9" stroke-linejoin="round"/>
<rect x="106.05" y="545.85" width="538.20" height="50.60" fill="#fff" stroke="#000" stroke-width="3.3"/>
<text x="306.86" y="581.10" font-size="27.5" fill="#1a1a1a" letter-spacing="-0.036">Control soil</text>
<line x1="104.6" y1="598.1" x2="104.6" y2="976.6" stroke="#000" stroke-width="3.1"/>
<line x1="95.9" y1="602.2" x2="103.2" y2="602.2" stroke="#1a1a1a" stroke-width="3.1"/>
<text transform="translate(50.66,612.70) scale(1,1.055)" font-size="27.5" fill="#4d4d4d" letter-spacing="0.118">6.5</text>
<line x1="95.9" y1="695.5" x2="103.2" y2="695.5" stroke="#1a1a1a" stroke-width="3.1"/>
<text transform="translate(50.70,706.03) scale(1,1.055)" font-size="27.5" fill="#4d4d4d" letter-spacing="0.102">5.5</text>
<line x1="95.9" y1="788.9" x2="103.2" y2="788.9" stroke="#1a1a1a" stroke-width="3.1"/>
<text transform="translate(51.47,799.36) scale(1,1.055)" font-size="27.5" fill="#4d4d4d" letter-spacing="-0.286">4.5</text>
<line x1="95.9" y1="882.2" x2="103.2" y2="882.2" stroke="#1a1a1a" stroke-width="3.1"/>
<text transform="translate(50.81,892.69) scale(1,1.055)" font-size="27.5" fill="#4d4d4d" letter-spacing="0.047">3.5</text>
<line x1="103.1" y1="975.1" x2="645.9" y2="975.1" stroke="#000" stroke-width="3.1"/>
<line x1="129.0" y1="976.6" x2="129.0" y2="983.7" stroke="#1a1a1a" stroke-width="3.1"/>
<text transform="translate(121.35,1011.00) scale(1,1.055)" font-size="27.5" fill="#4d4d4d">0</text>
<line x1="252.1" y1="976.6" x2="252.1" y2="983.7" stroke="#1a1a1a" stroke-width="3.1"/>
<text transform="translate(244.06,1011.00) scale(1,1.055)" font-size="27.5" fill="#4d4d4d">1</text>
<line x1="375.1" y1="976.6" x2="375.1" y2="983.7" stroke="#1a1a1a" stroke-width="3.1"/>
<text transform="translate(367.50,1011.00) scale(1,1.055)" font-size="27.5" fill="#4d4d4d">2</text>
<line x1="498.2" y1="976.6" x2="498.2" y2="983.7" stroke="#1a1a1a" stroke-width="3.1"/>
<text transform="translate(490.57,1011.00) scale(1,1.055)" font-size="27.5" fill="#4d4d4d">3</text>
<line x1="621.3" y1="976.6" x2="621.3" y2="983.7" stroke="#1a1a1a" stroke-width="3.1"/>
<text transform="translate(613.74,1011.00) scale(1,1.055)" font-size="27.5" fill="#4d4d4d">4</text>
<path d="M687.7,631.6 L692.6,636.2 L697.6,640.7 L702.5,645.3 L707.4,649.8 L712.3,654.3 L717.2,658.7 L722.2,663.1 L727.1,667.4 L732.0,671.7 L736.9,675.9 L741.9,680.1 L746.8,684.2 L751.7,688.3 L756.6,692.3 L761.6,696.2 L766.5,700.1 L771.4,703.9 L776.3,707.7 L781.2,711.3 L786.2,715.0 L791.1,718.5 L796.0,722.0 L800.9,725.4 L805.9,728.7 L810.8,732.0 L815.7,735.2 L820.6,738.3 L825.6,741.4 L830.5,744.4 L835.4,747.3 L840.3,750.2 L845.2,753.0 L850.2,755.7 L855.1,758.4 L860.0,761.0 L864.9,763.5 L869.9,766.0 L874.8,768.4 L879.7,770.8 L884.6,773.1 L889.5,775.3 L894.5,777.5 L899.4,779.6 L904.3,781.7 L909.2,783.7 L914.2,785.6 L919.1,787.6 L924.0,789.4 L928.9,791.2 L933.9,793.0 L938.8,794.7 L943.7,796.4 L948.6,798.0 L953.5,799.6 L958.5,801.1 L963.4,802.6 L968.3,804.1 L973.2,805.5 L978.2,806.9 L983.1,808.2 L988.0,809.5 L992.9,810.8 L997.8,812.0 L1002.8,813.2 L1007.7,814.4 L1012.6,815.5 L1017.5,816.6 L1022.5,817.7 L1027.4,818.8 L1032.3,819.8 L1037.2,820.8 L1042.2,821.8 L1047.1,822.8 L1052.0,823.7 L1056.9,824.6 L1061.8,825.5 L1066.8,826.4 L1071.7,827.3 L1076.6,828.1 L1081.5,828.9 L1086.5,829.7 L1091.4,830.5 L1096.3,831.3 L1101.2,832.1 L1106.1,832.8 L1111.1,833.5 L1116.0,834.3 L1120.9,835.0 L1125.8,835.7 L1130.8,836.4 L1135.7,837.1 L1140.6,837.7 L1145.5,838.4 L1150.5,839.1 L1155.4,839.7 L1160.3,840.4 L1165.2,841.0 L1170.1,841.6 L1175.1,842.3 L1180.0,842.9" fill="none" stroke="#F8766D" stroke-width="2.9" stroke-linejoin="round"/>
<path d="M687.7,628.7 L692.6,633.8 L697.6,638.9 L702.5,644.0 L707.4,649.2 L712.3,654.3 L717.2,659.4 L722.2,664.6 L727.1,669.7 L732.0,674.8 L736.9,679.9 L741.9,685.0 L746.8,690.1 L751.7,695.1 L756.6,700.1 L761.6,705.1 L766.5,710.0 L771.4,714.9 L776.3,719.7 L781.2,724.5 L786.2,729.2 L791.1,733.9 L796.0,738.5 L800.9,743.1 L805.9,747.6 L810.8,752.0 L815.7,756.3 L820.6,760.6 L825.6,764.8 L830.5,768.9 L835.4,773.0 L840.3,777.0 L845.2,780.9 L850.2,784.7 L855.1,788.4 L860.0,792.1 L864.9,795.7 L869.9,799.2 L874.8,802.7 L879.7,806.0 L884.6,809.3 L889.5,812.6 L894.5,815.7 L899.4,818.8 L904.3,821.8 L909.2,824.7 L914.2,827.6 L919.1,830.4 L924.0,833.1 L928.9,835.8 L933.9,838.4 L938.8,840.9 L943.7,843.3 L948.6,845.7 L953.5,848.1 L958.5,850.4 L963.4,852.6 L968.3,854.8 L973.2,856.9 L978.2,858.9 L983.1,860.9 L988.0,862.9 L992.9,864.8 L997.8,866.6 L1002.8,868.4 L1007.7,870.2 L1012.6,871.9 L1017.5,873.6 L1022.5,875.2 L1027.4,876.8 L1032.3,878.3 L1037.2,879.8 L1042.2,881.2 L1047.1,882.6 L1052.0,884.0 L1056.9,885.4 L1061.8,886.7 L1066.8,887.9 L1071.7,889.2 L1076.6,890.4 L1081.5,891.5 L1086.5,892.7 L1091.4,893.8 L1096.3,894.9 L1101.2,895.9 L1106.1,896.9 L1111.1,897.9 L1116.0,898.9 L1120.9,899.8 L1125.8,900.7 L1130.8,901.6 L1135.7,902.5 L1140.6,903.3 L1145.5,904.1 L1150.5,904.9 L1155.4,905.7 L1160.3,906.5 L1165.2,907.2 L1170.1,907.9 L1175.1,908.6 L1180.0,909.3" fill="none" stroke="#A3A500" stroke-width="2.9" stroke-linejoin="round"/>
<path d="M687.7,635.8 L692.6,640.2 L697.6,644.7 L702.5,649.2 L707.4,653.7 L712.3,658.1 L717.2,662.5 L722.2,666.9 L727.1,671.3 L732.0,675.6 L736.9,679.8 L741.9,684.0 L746.8,688.2 L751.7,692.3 L756.6,696.3 L761.6,700.3 L766.5,704.2 L771.4,708.0 L776.3,711.8 L781.2,715.5 L786.2,719.2 L791.1,722.7 L796.0,726.3 L800.9,729.7 L805.9,733.1 L810.8,736.4 L815.7,739.6 L820.6,742.7 L825.6,745.8 L830.5,748.9 L835.4,751.8 L840.3,754.7 L845.2,757.5 L850.2,760.3 L855.1,763.0 L860.0,765.6 L864.9,768.2 L869.9,770.7 L874.8,773.1 L879.7,775.5 L884.6,777.8 L889.5,780.1 L894.5,782.3 L899.4,784.4 L904.3,786.5 L909.2,788.6 L914.2,790.6 L919.1,792.5 L924.0,794.4 L928.9,796.3 L933.9,798.1 L938.8,799.8 L943.7,801.6 L948.6,803.2 L953.5,804.9 L958.5,806.5 L963.4,808.0 L968.3,809.5 L973.2,811.0 L978.2,812.5 L983.1,813.9 L988.0,815.3 L992.9,816.6 L997.8,817.9 L1002.8,819.2 L1007.7,820.5 L1012.6,821.7 L1017.5,822.9 L1022.5,824.1 L1027.4,825.2 L1032.3,826.4 L1037.2,827.5 L1042.2,828.6 L1047.1,829.6 L1052.0,830.7 L1056.9,831.7 L1061.8,832.7 L1066.8,833.7 L1071.7,834.7 L1076.6,835.6 L1081.5,836.5 L1086.5,837.5 L1091.4,838.4 L1096.3,839.3 L1101.2,840.2 L1106.1,841.0 L1111.1,841.9 L1116.0,842.7 L1120.9,843.6 L1125.8,844.4 L1130.8,845.2 L1135.7,846.0 L1140.6,846.8 L1145.5,847.6 L1150.5,848.4 L1155.4,849.2 L1160.3,850.0 L1165.2,850.7 L1170.1,851.5 L1175.1,852.3 L1180.0,853.0" fill="none" stroke="#00BF7D" stroke-width="2.9" stroke-linejoin="round"/>
<path d="M687.7,638.5 L692.6,643.1 L697.6,647.7 L702.5,652.2 L707.4,656.7 L712.3,661.1 L717.2,665.5 L722.2,669.8 L727.1,674.0 L732.0,678.2 L736.9,682.2 L741.9,686.3 L746.8,690.2 L751.7,694.1 L756.6,697.9 L761.6,701.7 L766.5,705.3 L771.4,708.9 L776.3,712.4 L781.2,715.9 L786.2,719.3 L791.1,722.6 L796.0,725.9 L800.9,729.0 L805.9,732.2 L810.8,735.2 L815.7,738.2 L820.6,741.1 L825.6,744.0 L830.5,746.8 L835.4,749.5 L840.3,752.2 L845.2,754.8 L850.2,757.4 L855.1,759.9 L860.0,762.3 L864.9,764.7 L869.9,767.1 L874.8,769.4 L879.7,771.6 L884.6,773.8 L889.5,775.9 L894.5,778.0 L899.4,780.1 L904.3,782.1 L909.2,784.1 L914.2,786.0 L919.1,787.9 L924.0,789.7 L928.9,791.5 L933.9,793.3 L938.8,795.0 L943.7,796.7 L948.6,798.4 L953.5,800.0 L958.5,801.6 L963.4,803.2 L968.3,804.7 L973.2,806.2 L978.2,807.7 L983.1,809.2 L988.0,810.6 L992.9,812.0 L997.8,813.3 L1002.8,814.7 L1007.7,816.0 L1012.6,817.3 L1017.5,818.6 L1022.5,819.8 L1027.4,821.0 L1032.3,822.2 L1037.2,823.4 L1042.2,824.6 L1047.1,825.8 L1052.0,826.9 L1056.9,828.0 L1061.8,829.1 L1066.8,830.2 L1071.7,831.2 L1076.6,832.3 L1081.5,833.3 L1086.5,834.3 L1091.4,835.3 L1096.3,836.3 L1101.2,837.3 L1106.1,838.3 L1111.1,839.2 L1116.0,840.1 L1120.9,841.1 L1125.8,842.0 L1130.8,842.9 L1135.7,843.8 L1140.6,844.6 L1145.5,845.5 L1150.5,846.4 L1155.4,847.2 L1160.3,848.0 L1165.2,848.9 L1170.1,849.7 L1175.1,850.5 L1180.0,851.3" fill="none" stroke="#00B0F6" stroke-width="2.9" stroke-linejoin="round"/>
<path d="M687.7,647.9 L692.6,652.3 L697.6,656.8 L702.5,661.2 L707.4,665.7 L712.3,670.1 L717.2,674.5 L722.2,678.8 L727.1,683.1 L732.0,687.4 L736.9,691.6 L741.9,695.7 L746.8,699.9 L751.7,703.9 L756.6,707.9 L761.6,711.9 L766.5,715.8 L771.4,719.6 L776.3,723.4 L781.2,727.1 L786.2,730.7 L791.1,734.3 L796.0,737.8 L800.9,741.3 L805.9,744.7 L810.8,748.0 L815.7,751.2 L820.6,754.4 L825.6,757.5 L830.5,760.6 L835.4,763.6 L840.3,766.5 L845.2,769.4 L850.2,772.2 L855.1,774.9 L860.0,777.6 L864.9,780.2 L869.9,782.8 L874.8,785.3 L879.7,787.7 L884.6,790.1 L889.5,792.5 L894.5,794.7 L899.4,797.0 L904.3,799.1 L909.2,801.3 L914.2,803.3 L919.1,805.4 L924.0,807.3 L928.9,809.3 L933.9,811.2 L938.8,813.0 L943.7,814.8 L948.6,816.6 L953.5,818.3 L958.5,819.9 L963.4,821.6 L968.3,823.2 L973.2,824.7 L978.2,826.3 L983.1,827.8 L988.0,829.2 L992.9,830.6 L997.8,832.0 L1002.8,833.4 L1007.7,834.7 L1012.6,836.0 L1017.5,837.3 L1022.5,838.6 L1027.4,839.8 L1032.3,841.0 L1037.2,842.2 L1042.2,843.3 L1047.1,844.4 L1052.0,845.5 L1056.9,846.6 L1061.8,847.7 L1066.8,848.7 L1071.7,849.7 L1076.6,850.7 L1081.5,851.7 L1086.5,852.7 L1091.4,853.7 L1096.3,854.6 L1101.2,855.5 L1106.1,856.4 L1111.1,857.3 L1116.0,858.2 L1120.9,859.1 L1125.8,859.9 L1130.8,860.8 L1135.7,861.6 L1140.6,862.4 L1145.5,863.2 L1150.5,864.0 L1155.4,864.8 L1160.3,865.6 L1165.2,866.3 L1170.1,867.1 L1175.1,867.9 L1180.0,868.6" fill="none" stroke="#E76BF3" stroke-width="2.9" stroke-linejoin="round"/>
<rect x="664.75" y="545.85" width="538.20" height="50.60" fill="#fff" stroke="#000" stroke-width="3.3"/>
<text x="860.07" y="581.10" font-size="27.5" fill="#1a1a1a" letter-spacing="-0.061">Thujone soil</text>
<line x1="663.1" y1="975.1" x2="1204.6" y2="975.1" stroke="#000" stroke-width="3.1"/>
<line x1="687.7" y1="976.6" x2="687.7" y2="983.7" stroke="#1a1a1a" stroke-width="3.1"/>
<text transform="translate(680.05,1011.00) scale(1,1.055)" font-size="27.5" fill="#4d4d4d">0</text>
<line x1="810.8" y1="976.6" x2="810.8" y2="983.7" stroke="#1a1a1a" stroke-width="3.1"/>
<text transform="translate(802.76,1011.00) scale(1,1.055)" font-size="27.5" fill="#4d4d4d">1</text>
<line x1="933.9" y1="976.6" x2="933.9" y2="983.7" stroke="#1a1a1a" stroke-width="3.1"/>
<text transform="translate(926.20,1011.00) scale(1,1.055)" font-size="27.5" fill="#4d4d4d">2</text>
<line x1="1056.9" y1="976.6" x2="1056.9" y2="983.7" stroke="#1a1a1a" stroke-width="3.1"/>
<text transform="translate(1049.27,1011.00) scale(1,1.055)" font-size="27.5" fill="#4d4d4d">3</text>
<line x1="1180.0" y1="976.6" x2="1180.0" y2="983.7" stroke="#1a1a1a" stroke-width="3.1"/>
<text transform="translate(1172.44,1011.00) scale(1,1.055)" font-size="27.5" fill="#4d4d4d">4</text>
<text x="807.29" y="1049.80" font-size="34.2" fill="#000" letter-spacing="0.086">Scale parameter</text>
<text transform="translate(36.06,672.70) rotate(-90)" font-size="34.2" fill="#000" letter-spacing="-0.043">Rényi diversity</text>
</svg>
</body></html>
